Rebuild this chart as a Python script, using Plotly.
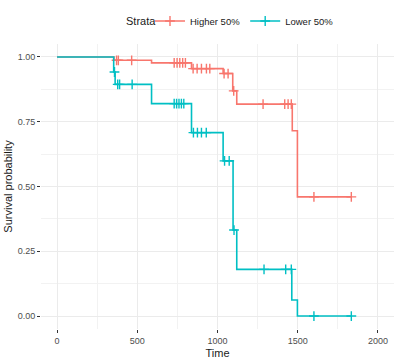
import plotly.graph_objects as go

# Kaplan-Meier step data
hi_time = [0, 355, 589, 838, 1035, 1095, 1120, 1466, 1498, 1834]
hi_surv = [1.0, 0.987, 0.977, 0.955, 0.936, 0.869, 0.818, 0.715, 0.46, 0.46]
lo_time = [0, 353, 362, 589, 838, 1035, 1097, 1120, 1463, 1498, 1834]
lo_surv = [1.0, 0.942, 0.894, 0.82, 0.708, 0.599, 0.332, 0.18, 0.0617, 0.0, 0.0]

# censor marks
hi_cens_t = [371, 382, 465, 730, 748, 765, 783, 800, 848, 873, 900, 931, 952, 1041, 1066, 1101, 1284, 1419, 1440, 1460, 1601, 1834]
hi_cens_s = [0.987, 0.987, 0.987, 0.977, 0.977, 0.977, 0.977, 0.977, 0.955, 0.955, 0.955, 0.955, 0.955,
             0.936, 0.936, 0.869, 0.818, 0.818, 0.818, 0.818, 0.46, 0.46]
lo_cens_t = [358, 378, 390, 468, 730, 745, 760, 775, 790, 850, 875, 900, 930, 1044, 1073, 1103, 1290, 1425, 1460, 1601, 1834]
lo_cens_s = [0.942, 0.894, 0.894, 0.894, 0.82, 0.82, 0.82, 0.82, 0.82, 0.708, 0.708, 0.708, 0.708,
             0.599, 0.599, 0.332, 0.18, 0.18, 0.18, 0.0, 0.0]

names = ["Higher 50%", "Lower 50%"]
colors = ["#F8766D", "#00BFC4"]
legend_title = "Strata"

fig = go.Figure()
series = [(hi_time, hi_surv, hi_cens_t, hi_cens_s), (lo_time, lo_surv, lo_cens_t, lo_cens_s)]
for (t, s, ct, cs), name, col in zip(series, names, colors):
    mk = dict(symbol="cross-thin-open", size=7, color=col, line=dict(color=col, width=1.4))
    fig.add_trace(go.Scatter(x=t, y=s, mode="lines", line=dict(color=col, width=1.6, shape="hv"),
                             showlegend=False, hoverinfo="skip"))
    fig.add_trace(go.Scatter(x=ct, y=cs, mode="markers", marker=mk, showlegend=False))
    fig.add_trace(go.Scatter(x=[None], y=[None], mode="lines+markers", name=name,
                             line=dict(color=col, width=1.6), marker=mk))

axis_common = dict(showgrid=True, gridcolor="#EBEBEB", gridwidth=1, zeroline=False,
                   ticks="outside", ticklen=3, tickcolor="#333333", showline=False,
                   automargin=False,
                   tickfont=dict(family="Liberation Sans, Arial", size=9, color="#4D4D4D"))

fig.update_layout(
    width=400, height=363,
    margin=dict(l=41, r=6, t=44, b=34),
    paper_bgcolor="white", plot_bgcolor="white",
    font=dict(family="Liberation Sans, Arial", color="#1A1A1A"),
    legend=dict(orientation="h", x=150 / 400, xanchor="left", xref="container",
                y=1 - 21 / 363, yanchor="middle", yref="container",
                font=dict(size=9.5, color="#1A1A1A"), itemwidth=30),
    annotations=[dict(text=legend_title, xref="paper", yref="paper",
                      x=(141 - 41) / 353, y=1 + 23 / 285, xanchor="center", yanchor="middle",
                      showarrow=False, font=dict(size=11, color="#1A1A1A"))],
    xaxis=dict(range=[-100, 2100], tickvals=[0, 500, 1000, 1500, 2000],
               title=dict(text="Time", font=dict(size=11, color="#1A1A1A"), standoff=4),
               **axis_common),
    yaxis=dict(range=[-0.05, 1.05], tickvals=[0, 0.25, 0.5, 0.75, 1.0],
               ticktext=["0.00", "0.25", "0.50", "0.75", "1.00"],
               title=dict(text="Survival probability", font=dict(size=11, color="#1A1A1A"), standoff=2),
               **axis_common),
)
fig.update_xaxes(minor=dict(tickvals=[250, 750, 1250, 1750], ticks="", showgrid=True, gridcolor="#F2F2F2"))
fig.update_yaxes(minor=dict(tickvals=[0.125, 0.375, 0.625, 0.875], ticks="", showgrid=True, gridcolor="#F2F2F2"))

fig.write_html("out.html", config={"displayModeBar": False},
               post_script="document.body.style.margin='0';")
